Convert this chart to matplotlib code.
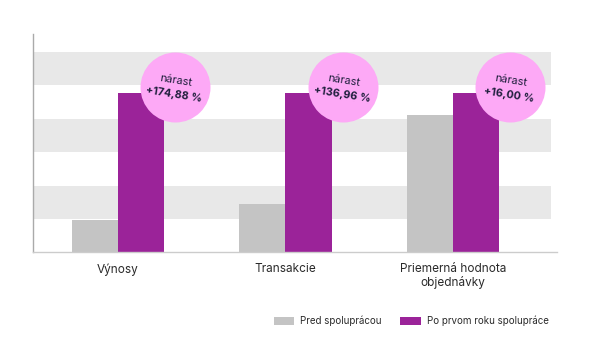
import matplotlib
matplotlib.use("Agg")
import matplotlib.pyplot as plt
from matplotlib.patches import Patch
import numpy as np

plt.rcParams['font.family'] = ['Inter', 'DejaVu Sans']

categories = ["Výnosy", "Transakcie", "Priemerná hodnota\nobjednávky"]
before = [0.97, 1.45, 4.10]
after = [4.78, 4.78, 4.78]
growth_labels = ["+174,88 %", "+136,96 %", "+16,00 %"]
series_names = ["Pred spoluprácou", "Po prvom roku spolupráce"]

c_gray = "#c4c4c4"
c_purple = "#9b2399"
c_pink = "#fda9f6"
c_band = "#e8e8e8"
c_text = "#1e1e3c"

fig = plt.figure(figsize=(6, 3.5), dpi=100)
ax = fig.add_axes([0.055, 0.279, 0.873, 0.624])

x = np.arange(len(categories))
w = 0.277
ax.set_xlim(-0.507, 2.62)
ax.set_ylim(0, 6.54)

# horizontal bands
for y0 in (1, 3, 5):
    ax.axhspan(y0, y0 + 1, xmin=0, xmax=0.988, color=c_band, lw=0, zorder=0)

ax.bar(x - w / 2, before, width=w, color=c_gray, zorder=2)
ax.bar(x + w / 2, after, width=w, color=c_purple, zorder=2)

for i, g in enumerate(growth_labels):
    cx = x[i] + w + 0.065
    cy = after[i] + 0.18
    ax.scatter([cx], [cy], s=2540, color=c_pink, zorder=3, linewidths=0)
    ax.annotate("nárast", (cx, cy), xytext=(0.7, 4.5), textcoords="offset points",
                ha="center", va="center", rotation=-9, fontsize=8,
                color=c_text, zorder=4, rotation_mode="anchor")
    ax.annotate(g, (cx, cy), xytext=(-0.7, -5.8), textcoords="offset points",
                ha="center", va="center", rotation=-9, fontsize=7.8,
                fontweight="bold", color=c_text, zorder=4, rotation_mode="anchor")

ax.set_xticks(x)
ax.set_xticklabels(categories, fontsize=8.5, color="#2a2a2a", linespacing=1.1)
ax.tick_params(axis="x", length=0, pad=8)
ax.set_yticks([])

for s in ("top", "right"):
    ax.spines[s].set_visible(False)
ax.spines["left"].set_color("#aaaaaa")
ax.spines["bottom"].set_color("#cccccc")
ax.spines["left"].set_linewidth(1)
ax.spines["bottom"].set_linewidth(1)

handles = [Patch(facecolor=c_gray, label=series_names[0]),
           Patch(facecolor=c_purple, label=series_names[1])]
fig.legend(handles=handles, loc="center", bbox_to_anchor=(0.685, 0.083), ncol=2,
           frameon=False, fontsize=7, handlelength=2.15, handleheight=1.0,
           columnspacing=1.85, handletextpad=0.6, labelcolor="#2a2a2a")

fig.savefig("out.png", dpi=100, facecolor="white")
